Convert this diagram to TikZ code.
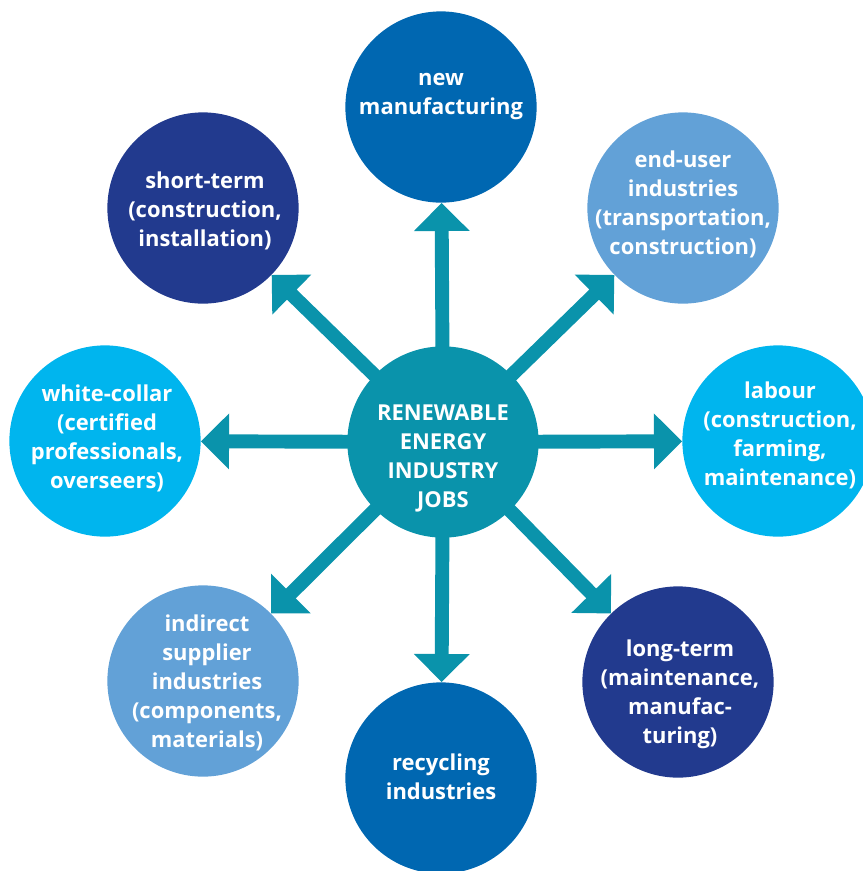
\documentclass[tikz,border=0pt]{standalone}
\usepackage{fontspec}
\setmainfont{Open Sans}
\usetikzlibrary{arrows.meta,backgrounds,positioning}
\definecolor{hubteal}{HTML}{0A93AB}
\definecolor{midblue}{HTML}{0067B1}
\definecolor{skyblue}{HTML}{62A1D7}
\definecolor{cyanblue}{HTML}{00B5EE}
\definecolor{navyblue}{HTML}{223A8E}

\begin{document}
\begin{tikzpicture}[
  x=0.025cm, y=-0.025cm,
  ring/.style={circle, minimum size=4.78cm, inner sep=0pt},
  ringtext/.style={align=center, text=white, inner sep=0pt,
    font=\fontsize{15.6}{20.6}\selectfont\bfseries},
  spoke/.style={draw=hubteal, line width=9.9pt,
    -{Triangle[length=20pt, width=38.5pt]}},
]
\useasboundingbox (0,0) rectangle (863,871);

% hub
\node[ring, fill=hubteal] (hub) at (443,442) {};
\node[ringtext] (hubtxt) at (443,458) {RENEWABLE\\ENERGY\\INDUSTRY\\JOBS};

% outer circles
\node[ring, fill=midblue] (newmfg) at (441,107) {};
\node[ringtext] (newmfgtxt) at (441,97) {new\\manufacturing};

\node[ring, fill=skyblue] (enduser) at (683,208) {};
\node[ringtext] (endusertxt) at (683,204) {end-user\\industries\\(transportation,\\construction)};

\node[ring, fill=cyanblue] (labour) at (778,441) {};
\node[ringtext] (labourtxt) at (780,435) {labour\\(construction,\\farming,\\maintenance)};

\node[ring, fill=navyblue] (longterm) at (678,682) {};
\node[ringtext] (longtermtxt) at (680,694) {long-term\\(maintenance,\\manufac-\\turing)};

\node[ring, fill=midblue] (recycling) at (441,778) {};
\node[ringtext] (recyclingtxt) at (441,777) {recycling\\industries};

\node[ring, fill=skyblue] (indirect) at (203,681) {};
\node[ringtext] (indirecttxt) at (207,683) {indirect\\supplier\\industries\\(components,\\materials)};

\node[ring, fill=cyanblue] (whitecollar) at (105,441) {};
\node[ringtext] (whitecollartxt) at (107,438) {white-collar\\(certified\\professionals,\\overseers)};

\node[ring, fill=navyblue] (shortterm) at (203,208) {};
\node[ringtext] (shorttermtxt) at (205,211) {short-term\\(construction,\\installation)};

% spokes
\begin{scope}[on background layer]
  \draw[spoke] (hub.center) -- (newmfg);
  \draw[spoke] (hub.center) -- (enduser);
  \draw[spoke] (hub.center) -- (labour);
  \draw[spoke] (hub.center) -- (longterm);
  \draw[spoke] (hub.center) -- (recycling);
  \draw[spoke] (hub.center) -- (indirect);
  \draw[spoke] (hub.center) -- (whitecollar);
  \draw[spoke] (hub.center) -- (shortterm);
\end{scope}

\end{tikzpicture}
\end{document}
